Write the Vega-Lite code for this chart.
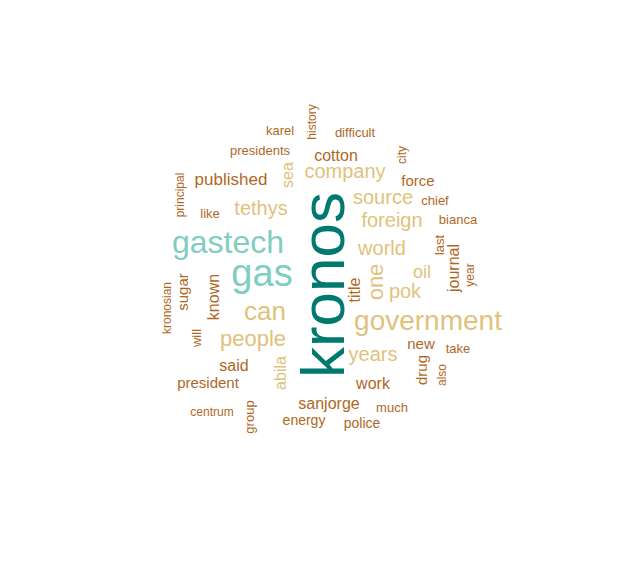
{
  "$schema": "https://vega.github.io/schema/vega-lite/v6.json",
  "width": 640,
  "height": 567,
  "autosize": {"type": "fit", "contains": "padding"},
  "padding": 0,
  "background": "white",
  "data": {
    "values": [
      {"word": "kronos", "x": 325, "y": 285, "freq": 62, "rot": -90, "tier": "top"},
      {"word": "gastech", "x": 228, "y": 243, "freq": 32, "rot": 0, "tier": "high"},
      {"word": "gas", "x": 262, "y": 275, "freq": 38, "rot": 0, "tier": "high"},
      {"word": "government", "x": 428, "y": 322, "freq": 28, "rot": 0, "tier": "mid"},
      {"word": "can", "x": 265, "y": 312, "freq": 26, "rot": 0, "tier": "mid"},
      {"word": "people", "x": 253, "y": 339, "freq": 22, "rot": 0, "tier": "mid"},
      {"word": "company", "x": 345, "y": 172, "freq": 20, "rot": 0, "tier": "mid"},
      {"word": "tethys", "x": 261, "y": 209, "freq": 20, "rot": 0, "tier": "mid"},
      {"word": "source", "x": 383, "y": 198, "freq": 20, "rot": 0, "tier": "mid"},
      {"word": "foreign", "x": 392, "y": 221, "freq": 20, "rot": 0, "tier": "mid"},
      {"word": "world", "x": 382, "y": 249, "freq": 20, "rot": 0, "tier": "mid"},
      {"word": "one", "x": 376, "y": 282, "freq": 22, "rot": -90, "tier": "mid"},
      {"word": "pok", "x": 405, "y": 292, "freq": 20, "rot": 0, "tier": "mid"},
      {"word": "oil", "x": 422, "y": 273, "freq": 18, "rot": 0, "tier": "mid"},
      {"word": "years", "x": 373, "y": 355, "freq": 20, "rot": 0, "tier": "mid"},
      {"word": "abila", "x": 281, "y": 373, "freq": 16, "rot": -90, "tier": "mid"},
      {"word": "sea", "x": 288, "y": 175, "freq": 16, "rot": -90, "tier": "mid"},
      {"word": "title", "x": 355, "y": 290, "freq": 16, "rot": -90, "tier": "low"},
      {"word": "journal", "x": 454, "y": 268, "freq": 16, "rot": -90, "tier": "low"},
      {"word": "last", "x": 440, "y": 245, "freq": 13, "rot": -90, "tier": "low"},
      {"word": "year", "x": 470, "y": 275, "freq": 12, "rot": -90, "tier": "low"},
      {"word": "new", "x": 421, "y": 344, "freq": 15, "rot": 0, "tier": "low"},
      {"word": "take", "x": 458, "y": 349, "freq": 13, "rot": 0, "tier": "low"},
      {"word": "also", "x": 442, "y": 375, "freq": 12, "rot": -90, "tier": "low"},
      {"word": "drug", "x": 422, "y": 370, "freq": 15, "rot": -90, "tier": "low"},
      {"word": "bianca", "x": 458, "y": 220, "freq": 13, "rot": 0, "tier": "low"},
      {"word": "chief", "x": 435, "y": 201, "freq": 13, "rot": 0, "tier": "low"},
      {"word": "force", "x": 418, "y": 181, "freq": 15, "rot": 0, "tier": "low"},
      {"word": "city", "x": 402, "y": 155, "freq": 12, "rot": -90, "tier": "low"},
      {"word": "difficult", "x": 355, "y": 133, "freq": 13, "rot": 0, "tier": "low"},
      {"word": "history", "x": 312, "y": 122, "freq": 12, "rot": -90, "tier": "low"},
      {"word": "karel", "x": 280, "y": 131, "freq": 13, "rot": 0, "tier": "low"},
      {"word": "presidents", "x": 260, "y": 151, "freq": 13, "rot": 0, "tier": "low"},
      {"word": "cotton", "x": 336, "y": 156, "freq": 16, "rot": 0, "tier": "low"},
      {"word": "published", "x": 231, "y": 180, "freq": 17, "rot": 0, "tier": "low"},
      {"word": "principal", "x": 180, "y": 195, "freq": 12, "rot": -90, "tier": "low"},
      {"word": "like", "x": 210, "y": 214, "freq": 13, "rot": 0, "tier": "low"},
      {"word": "sugar", "x": 183, "y": 292, "freq": 15, "rot": -90, "tier": "low"},
      {"word": "known", "x": 214, "y": 297, "freq": 16, "rot": -90, "tier": "low"},
      {"word": "kronosian", "x": 167, "y": 308, "freq": 12, "rot": -90, "tier": "low"},
      {"word": "will", "x": 197, "y": 338, "freq": 13, "rot": -90, "tier": "low"},
      {"word": "said", "x": 234, "y": 366, "freq": 16, "rot": 0, "tier": "low"},
      {"word": "president", "x": 208, "y": 383, "freq": 15, "rot": 0, "tier": "low"},
      {"word": "centrum", "x": 212, "y": 412, "freq": 12, "rot": 0, "tier": "low"},
      {"word": "group", "x": 250, "y": 417, "freq": 13, "rot": -90, "tier": "low"},
      {"word": "sanjorge", "x": 329, "y": 404, "freq": 16, "rot": 0, "tier": "low"},
      {"word": "much", "x": 392, "y": 408, "freq": 13, "rot": 0, "tier": "low"},
      {"word": "energy", "x": 304, "y": 421, "freq": 14, "rot": 0, "tier": "low"},
      {"word": "police", "x": 362, "y": 424, "freq": 14, "rot": 0, "tier": "low"},
      {"word": "work", "x": 373, "y": 384, "freq": 16, "rot": 0, "tier": "low"}
    ]
  },
  "mark": {"type": "text", "font": "Liberation Sans", "align": "center", "baseline": "middle"},
  "encoding": {
    "x": {"field": "x", "type": "quantitative", "scale": {"domain": [0, 640]}, "axis": null},
    "y": {"field": "y", "type": "quantitative", "scale": {"domain": [567, 0]}, "axis": null},
    "text": {"field": "word"},
    "size": {"field": "freq", "type": "quantitative", "scale": null},
    "angle": {"field": "rot", "type": "quantitative", "scale": null},
    "color": {
      "field": "tier",
      "type": "nominal",
      "scale": {"domain": ["top", "high", "mid", "low"], "range": ["#01796f", "#80cdc1", "#dfc27d", "#b0681f"]},
      "legend": null
    }
  },
  "config": {"view": {"stroke": null}}
}
